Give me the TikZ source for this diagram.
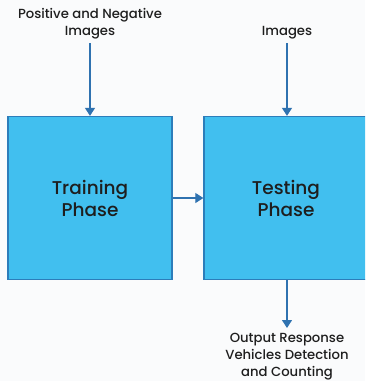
\documentclass[tikz,border=0pt]{standalone}
\usepackage{fontspec}
\setmainfont{Poppins}[UprightFont=* Medium, BoldFont=* SemiBold]
\usetikzlibrary{arrows.meta}
\definecolor{boxfill}{HTML}{41BFEF}
\definecolor{boxline}{HTML}{2C7DBA}
\definecolor{arrowc}{HTML}{2F72B0}
\definecolor{bgc}{HTML}{FAFBFC}
\definecolor{txt}{HTML}{1E1E1E}
\tikzset{
  phase/.style={draw=boxline, line width=1.3pt, fill=boxfill, minimum width=164pt, minimum height=163pt, inner sep=0pt, align=center, font=\fontsize{18.5}{22}\selectfont, text=txt},
  lbl/.style={align=center, font=\fontsize{13.2}{17}\selectfont, text=txt, inner sep=0pt},
  conn/.style={draw=arrowc, line width=1.2pt, -{Triangle[length=8pt,width=10pt]}}
}
\begin{document}
\begin{tikzpicture}[x=1pt,y=-1pt]
\useasboundingbox (0,0) rectangle (365,381);
\fill[bgc] (0,0) rectangle (365,381);
\begin{scope}
\clip (0,0) rectangle (365,381);
\node[phase] (train) at (90,198) {Training\\Phase};
\node[phase] (test) at (286,198) {Testing\\Phase};
\end{scope}
\node[lbl] (pn) at (90,23.5) {Positive and Negative\\Images};
\node[lbl] (img) at (287,33) {Images};
\node[lbl] (out) at (287,356.5) {Output Response\\Vehicles Detection\\and Counting};
\coordinate (pnb) at (90,43);
\coordinate (imgb) at (287,43);
\coordinate (outt) at (287,328);
\draw[conn] (pnb) -- (train.north -| pnb);
\draw[conn] (imgb) -- (imgb |- test.north);
\draw[conn] (train.east) -- (test.west);
\draw[conn] (outt |- test.south) -- (outt);
\end{tikzpicture}
\end{document}
